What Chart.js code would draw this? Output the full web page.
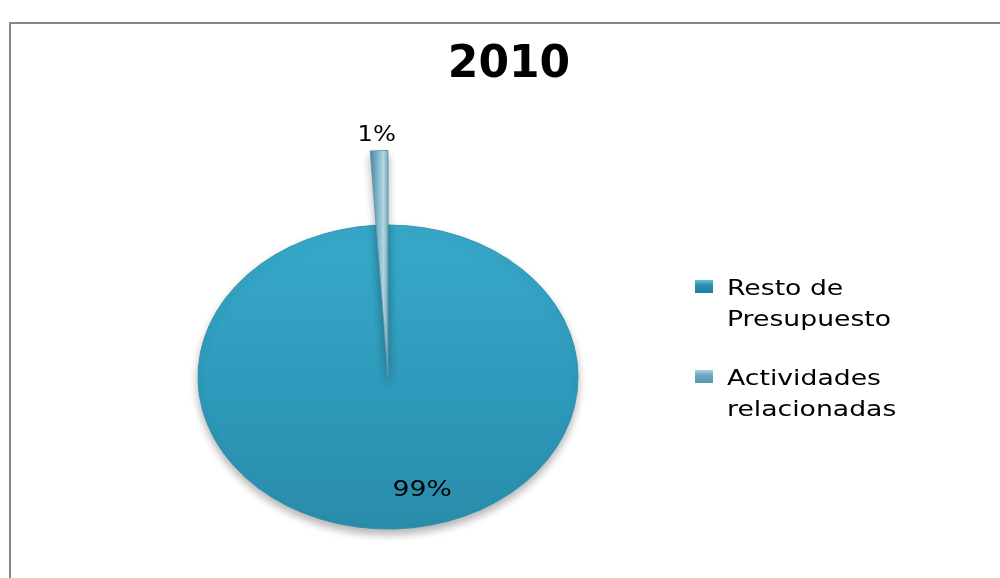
<!DOCTYPE html>
<html>
<head>
<meta charset="utf-8">
<script src="https://cdn.jsdelivr.net/npm/chart.js@4.4.1/dist/chart.umd.min.js"></script>
<style>
  html, body { margin: 0; padding: 0; background: #ffffff; }
  #wrap { position: relative; width: 1000px; height: 578px; }
</style>
</head>
<body>
<div id="wrap"><canvas id="c" width="1000" height="578"></canvas></div>
<script>
// ---- data ----
const titleText = '2010';
const categories = ['Resto de Presupuesto', 'Actividades relacionadas'];
const values = [99, 1];
const pctLabels = ['99%', '1%'];

// ---- styling ----
const sliceColors = ['#2f9bbd', '#7fb4c8'];
const legendColors = ['#2a8fae', '#6ea8bf'];
const ellipseRatio = 0.8;
const pieRadius = 190;
const textScaleX = 1.27;
const explodeScale = [1, 1.49]; // exploded (pulled-out) slice drawn longer, like the 3D original

function gradFor(chart, i) {
  const area = chart.chartArea;
  if (!area) return sliceColors[i];
  const cy = (area.top + area.bottom) / 2;
  if (i === 0) {
    const g = chart.ctx.createLinearGradient(0, cy - pieRadius, 0, cy + pieRadius);
    g.addColorStop(0, '#38a9ca');
    g.addColorStop(0.5, '#2f9bbc');
    g.addColorStop(1, '#2a8cab');
    return g;
  }
  const cx = area.left + area.width / 2;
  const g = chart.ctx.createLinearGradient(cx - 17, 0, cx + 1, 0);
  g.addColorStop(0, '#4f8fa8');
  g.addColorStop(0.45, '#8fc2d4');
  g.addColorStop(0.7, '#b9dbe6');
  g.addColorStop(1, '#6aa3b9');
  return g;
}

function drawStretched(ctx, text, x, y, sx, align) {
  ctx.save();
  ctx.translate(x, y);
  ctx.scale(sx, 1);
  ctx.textAlign = align;
  ctx.fillText(text, 0, 0);
  ctx.restore();
}

function wrapWords(ctx, text, maxW, sx) {
  const words = text.split(' ');
  const lines = [];
  let cur = '';
  words.forEach(w => {
    const t = cur ? cur + ' ' + w : w;
    if (cur && ctx.measureText(t).width * sx > maxW) {
      lines.push(cur);
      cur = w;
    } else {
      cur = t;
    }
  });
  if (cur) lines.push(cur);
  return lines;
}

const ellipsePlugin = {
  id: 'ellipse',
  afterDatasetsUpdate(chart) {
    const meta = chart.getDatasetMeta(0);
    meta.data.forEach((arc, i) => {
      arc.outerRadius = arc.outerRadius * (explodeScale[i] || 1);
    });
  },
  beforeDraw(chart) {
    const ctx = chart.ctx;
    ctx.save();
    ctx.strokeStyle = '#878787';
    ctx.lineWidth = 2;
    ctx.strokeRect(10, 23, 1000, 600);
    ctx.restore();
  },
  beforeDatasetsDraw(chart) {
    const ctx = chart.ctx;
    const a = chart.chartArea;
    const cy = (a.top + a.bottom) / 2;
    ctx.save();
    ctx.translate(0, cy);
    ctx.scale(1, ellipseRatio);
    ctx.translate(0, -cy);
    ctx.shadowColor = 'rgba(0,0,0,0.3)';
    ctx.shadowBlur = 9;
    ctx.shadowOffsetY = 5;
  },
  afterDatasetsDraw(chart) {
    chart.ctx.restore();
  },
  afterDraw(chart) {
    const ctx = chart.ctx;
    // title
    ctx.save();
    ctx.fillStyle = '#000000';
    ctx.font = 'bold 44px "DejaVu Sans"';
    ctx.textAlign = 'center';
    ctx.textBaseline = 'alphabetic';
    ctx.fillText(titleText, 509, 77);
    ctx.restore();

    // percentage labels
    const meta = chart.getDatasetMeta(0);
    const cx = chart.chartArea.left + chart.chartArea.width / 2;
    const cy = (chart.chartArea.top + chart.chartArea.bottom) / 2;
    ctx.save();
    ctx.fillStyle = '#000000';
    ctx.font = '21px "DejaVu Sans"';
    ctx.textBaseline = 'alphabetic';
    meta.data.forEach((arc, i) => {
      const p = arc.getProps(['startAngle', 'endAngle', 'outerRadius'], true);
      const mid = (p.startAngle + p.endAngle) / 2;
      if (i === 0) {
        const d = pieRadius * 0.75;
        drawStretched(ctx, pctLabels[i], cx + Math.cos(mid) * d, cy + Math.sin(mid) * d * ellipseRatio + 5, textScaleX, 'left');
      } else {
        const d = p.outerRadius + 12;
        drawStretched(ctx, pctLabels[i], cx + Math.cos(mid) * d - 2, cy + Math.sin(mid) * d * ellipseRatio, 1.15, 'center');
      }
    });
    ctx.restore();

    // legend
    ctx.save();
    ctx.font = '21px "DejaVu Sans"';
    ctx.textBaseline = 'alphabetic';
    const legendX = 695, textX = 727;
    let y = 295;
    categories.forEach((name, i) => {
      const lines = wrapWords(ctx, name, 190, textScaleX);
      const g = ctx.createLinearGradient(0, y - 15, 0, y - 2);
      g.addColorStop(0, i === 0 ? '#5fc0dc' : '#a9d2e0');
      g.addColorStop(0.4, legendColors[i]);
      g.addColorStop(1, i === 0 ? '#23809c' : '#5b95ab');
      ctx.fillStyle = g;
      ctx.fillRect(legendX, y - 15, 18, 13);
      ctx.fillStyle = '#000000';
      lines.forEach((ln, k) => {
        drawStretched(ctx, ln, textX, y + k * 31, textScaleX, 'left');
      });
      y += lines.length * 31 + 28;
    });
    ctx.restore();
  }
};

new Chart(document.getElementById('c'), {
  type: 'pie',
  data: {
    labels: categories,
    datasets: [{
      data: values,
      backgroundColor: (c) => gradFor(c.chart, c.dataIndex),
      borderColor: ['#2b8fad', '#5d98ae'],
      borderWidth: 1,
      clip: false
    }]
  },
  options: {
    responsive: false,
    animation: false,
    radius: pieRadius,
    layout: { padding: { left: 0, right: 224, top: 176, bottom: 0 } },
    plugins: {
      legend: { display: false },
      title: { display: false },
      tooltip: { enabled: false }
    }
  },
  plugins: [ellipsePlugin]
});
</script>
</body>
</html>
